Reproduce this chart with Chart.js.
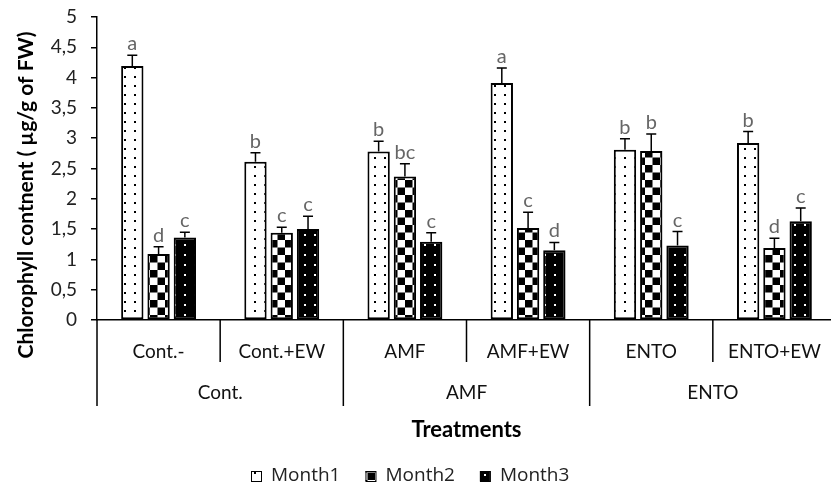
<!DOCTYPE html>
<html>
<head>
<meta charset="utf-8">
<script src="https://cdn.jsdelivr.net/npm/chart.js@4"></script>
<style>
  html, body { margin: 0; padding: 0; overflow: hidden; background: #fff; }
  #wrap { width: 836px; height: 488px; }
</style>
</head>
<body>
<div id="wrap"><canvas id="chlChart" width="836" height="488"></canvas></div>
<script>
const categories = ["Cont.-", "Cont.+EW", "AMF", "AMF+EW", "ENTO", "ENTO+EW"];
const groups = ["Cont.", "AMF", "ENTO"];
const seriesNames = ["Month1", "Month2", "Month3"];

const month1 = [4.19, 2.61, 2.78, 3.91, 2.81, 2.92];
const month2 = [1.09, 1.44, 2.37, 1.52, 2.79, 1.19];
const month3 = [1.36, 1.50, 1.29, 1.15, 1.23, 1.63];

const err1 = [0.18, 0.15, 0.17, 0.25, 0.18, 0.19];
const err2 = [0.12, 0.09, 0.21, 0.26, 0.28, 0.16];
const err3 = [0.09, 0.21, 0.15, 0.13, 0.23, 0.22];

const letters1 = ["a", "b", "b", "a", "b", "b"];
const letters2 = ["d", "c", "bc", "c", "b", "d"];
const letters3 = ["c", "c", "c", "d", "c", "c"];

const FONT = "Lato, 'Open Sans', sans-serif";

// fill patterns
function makePattern(kind) {
  const c = document.createElement("canvas");
  const g = c.getContext("2d");
  if (kind === "dots") {
    c.width = 10; c.height = 9;
    g.fillStyle = "#fff"; g.fillRect(0, 0, 10, 9);
    g.fillStyle = "#000"; g.fillRect(4, 4, 2, 2);
  } else if (kind === "check") {
    c.width = 15; c.height = 15;
    g.fillStyle = "#fff"; g.fillRect(0, 0, 15, 15);
    g.fillStyle = "#000";
    g.fillRect(0, 0, 7.5, 7.5); g.fillRect(7.5, 7.5, 7.5, 7.5);
  } else {
    c.width = 10; c.height = 10;
    g.fillStyle = "#000"; g.fillRect(0, 0, 10, 10);
    g.fillStyle = "#fff"; g.fillRect(4, 4, 2, 2);
  }
  return g.createPattern(c, "repeat");
}
const fills = [makePattern("dots"), makePattern("check"), makePattern("solid")];
const errs = [err1, err2, err3];
const letters = [letters1, letters2, letters3];

const extras = {
  id: "extras",
  afterDraw(chart) {
    const ctx = chart.ctx;
    const x = chart.scales.x;
    const area = chart.chartArea;
    const step = (area.right - area.left) / categories.length;
    ctx.save();

    // error bars and letters
    chart.data.datasets.forEach((ds, di) => {
      const meta = chart.getDatasetMeta(di);
      meta.data.forEach((bar, i) => {
        const yTop = chart.scales.y.getPixelForValue(ds.data[i] + errs[di][i]);
        ctx.strokeStyle = "#000";
        ctx.lineWidth = 1.5;
        ctx.beginPath();
        ctx.moveTo(bar.x, bar.y);
        ctx.lineTo(bar.x, yTop);
        ctx.moveTo(bar.x - 5, yTop);
        ctx.lineTo(bar.x + 5, yTop);
        ctx.stroke();
        ctx.fillStyle = "#666";
        ctx.font = "20px " + FONT;
        ctx.textAlign = "center";
        ctx.textBaseline = "alphabetic";
        ctx.fillText(letters[di][i], bar.x, yTop - 5);
      });
    });

    // multi-level x axis
    ctx.strokeStyle = "#000";
    ctx.lineWidth = 1.5;
    ctx.beginPath();
    ctx.moveTo(area.left, area.bottom);
    ctx.lineTo(area.left, area.bottom + 86);
    for (let i = 1; i <= categories.length; i++) {
      const bx = area.left + step * i;
      const len = i % 2 === 0 ? 86 : 42;
      ctx.moveTo(bx, area.bottom);
      ctx.lineTo(bx, area.bottom + len);
    }
    ctx.stroke();

    ctx.fillStyle = "#111";
    ctx.font = "19px " + FONT;
    ctx.textAlign = "center";
    ctx.textBaseline = "middle";
    categories.forEach((c, i) => {
      ctx.fillText(c, x.getPixelForValue(i), area.bottom + 32);
    });
    groups.forEach((g, i) => {
      ctx.fillText(g, area.left + step * (2 * i + 1), area.bottom + 73);
    });

    ctx.font = "bold 22px " + FONT;
    ctx.fillStyle = "#000";
    ctx.fillText("Treatments", (area.left + area.right) / 2, area.bottom + 110);

    // y title
    ctx.save();
    ctx.translate(26, 195);
    ctx.rotate(-Math.PI / 2);
    ctx.font = "bold 21px " + FONT;
    ctx.fillText("Chlorophyll contnent ( \u00b5g/g of FW)", 0, 0);
    ctx.restore();

    // legend
    ctx.font = "19px 'Open Sans', sans-serif";
    ctx.textAlign = "left";
    let lx = 251;
    const ly = 476;
    seriesNames.forEach((name, i) => {
      ctx.fillStyle = fills[i];
      ctx.fillRect(lx, ly - 5, 10, 10);
      ctx.lineWidth = 1;
      ctx.strokeStyle = "#000";
      ctx.strokeRect(lx + 0.5, ly - 4.5, 10, 10);
      ctx.fillStyle = "#222";
      ctx.fillText(name, lx + 20, ly);
      lx += 20 + ctx.measureText(name).width + 25;
    });

    ctx.restore();
  }
};

const ctx = document.getElementById("chlChart").getContext("2d");
new Chart(ctx, {
  type: "bar",
  data: {
    labels: categories,
    datasets: [month1, month2, month3].map((d, i) => ({
      label: seriesNames[i],
      data: d,
      backgroundColor: fills[i],
      borderColor: "#000",
      borderWidth: 2,
      borderSkipped: false,
      barPercentage: 0.85,
      categoryPercentage: 0.64
    }))
  },
  options: {
    responsive: false,
    animation: false,
    devicePixelRatio: 1,
    layout: { padding: { top: 17, left: 0, right: 0, bottom: 0 } },
    plugins: { legend: { display: false }, tooltip: { enabled: false } },
    scales: {
      x: {
        ticks: { display: false },
        grid: { display: false },
        border: { display: true, color: "#000", width: 1.5 },
        afterFit(scale) { scale.height = 168; }
      },
      y: {
        min: 0,
        max: 5,
        ticks: {
          stepSize: 0.5,
          padding: 14,
          color: "#222",
          font: { family: FONT, size: 19 },
          callback: v => String(v).replace(".", ",")
        },
        grid: { drawOnChartArea: false, drawTicks: true, tickLength: 6, color: "#000", lineWidth: 1.5 },
        border: { display: true, color: "#000", width: 1.5 },
        afterFit(scale) {
          scale.width = 97;
          scale.paddingTop = 0;
          scale.paddingBottom = 0;
        }
      }
    }
  },
  plugins: [extras]
});
</script>
</body>
</html>
